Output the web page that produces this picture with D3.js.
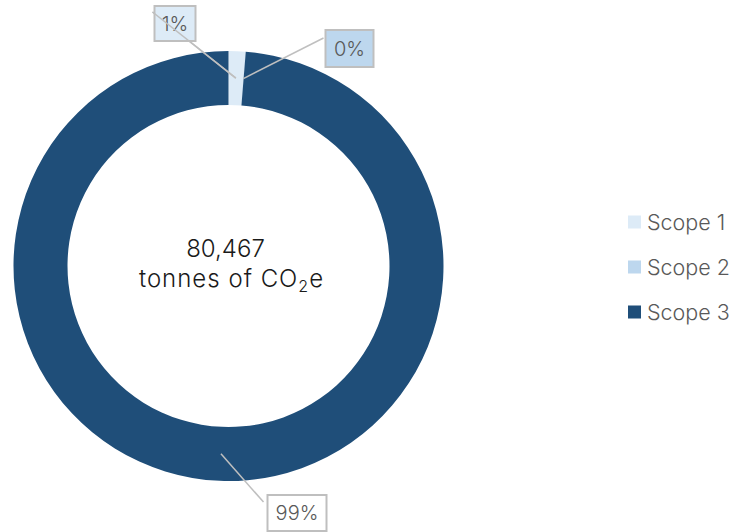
<!DOCTYPE html>
<html>
<head>
	<meta charset="utf-8">
	<script src="https://d3js.org/d3.v7.min.js"></script>
	<style>
		body { margin: 0; background: #fff; }
		text { font-family: Inter, "DejaVu Sans", sans-serif; font-weight: 300; }
	</style>
</head>
<body>
	<svg width="737" height="532"></svg>
	<script>
		// data
		var categories = ["Scope 1", "Scope 2", "Scope 3"];
		var values = [1000, 30, 79437];
		var pctLabels = ["1%", "0%", "99%"];
		var totalLabel = "80,467";
		var colors = ["#DDEBF7", "#BDD7EE", "#1F4E79"];

		// label box placement (end of leader line relative to centre, box offset)
		var labelLayout = [
			{lx: -76, ly: -254, bx: -74, by: -260, w: 41, h: 35},
			{lx: 95, ly: -228, bx: 97, by: -236, w: 48, h: 37},
			{lx: 35, ly: 236, bx: 39, by: 229, w: 59, h: 36}
		];

		var svg = d3.select("svg"),
			cx = 228.5, cy = 266,
			outerR = 215, innerR = 161;

		var g = svg.append("g")
			.attr("transform", "translate(" + cx + "," + cy + ")");

		var pie = d3.pie().sort(null).value(function(d) { return d; });
		var arc = d3.arc().innerRadius(innerR).outerRadius(outerR);
		var midArc = d3.arc().innerRadius(188).outerRadius(188);

		var arcs = pie(values);

		g.selectAll(".slice")
			.data(arcs)
			.enter().append("path")
			.attr("class", "slice")
			.attr("d", arc)
			.attr("fill", function(d, i) { return colors[i]; });

		// leader lines
		g.selectAll(".leader")
			.data(arcs)
			.enter().append("line")
			.attr("class", "leader")
			.attr("x1", function(d) { return midArc.centroid(d)[0]; })
			.attr("y1", function(d) { return midArc.centroid(d)[1]; })
			.attr("x2", function(d, i) { return labelLayout[i].lx; })
			.attr("y2", function(d, i) { return labelLayout[i].ly; })
			.attr("stroke", "#bfbfbf")
			.attr("stroke-width", 1.5);

		var lab = g.selectAll(".lab")
			.data(arcs)
			.enter().append("g")
			.attr("class", "lab")
			.attr("transform", function(d, i) {
				return "translate(" + labelLayout[i].bx + "," + labelLayout[i].by + ")";
			});

		lab.append("rect")
			.attr("width", function(d, i) { return labelLayout[i].w; })
			.attr("height", function(d, i) { return labelLayout[i].h; })
			.attr("fill", function(d, i) { return i == 2 ? "#fff" : colors[i]; })
			.attr("stroke", "#bfbfbf")
			.attr("stroke-width", 2);

		lab.append("text")
			.attr("x", function(d, i) { return labelLayout[i].w / 2; })
			.attr("y", function(d, i) { return labelLayout[i].h / 2; })
			.attr("dy", "0.36em")
			.attr("text-anchor", "middle")
			.attr("font-size", 20)
			.attr("fill", "#595959")
			.text(function(d, i) { return pctLabels[i]; });

		// line for 1% runs over its box in the reference
		g.append("line")
			.datum(arcs[0])
			.attr("x1", function(d) { return midArc.centroid(d)[0]; })
			.attr("y1", function(d) { return midArc.centroid(d)[1]; })
			.attr("x2", labelLayout[0].lx)
			.attr("y2", labelLayout[0].ly)
			.attr("stroke", "#bfbfbf")
			.attr("stroke-width", 1.5);

		// centre text
		g.append("text")
			.attr("text-anchor", "middle")
			.attr("x", -3)
			.attr("y", -9)
			.attr("font-size", 24)
			.attr("fill", "#1a1a1a")
			.text(totalLabel);

		var t2 = g.append("text")
			.attr("text-anchor", "middle")
			.attr("x", 3)
			.attr("y", 21)
			.attr("font-size", 24)
			.attr("letter-spacing", 1)
			.attr("fill", "#1a1a1a");
		t2.append("tspan").text("tonnes of CO");
		t2.append("tspan").attr("font-size", 16).attr("dy", 5).text("2");
		t2.append("tspan").attr("dy", -5).text("e");

		// legend
		var legend = svg.append("g")
			.attr("transform", "translate(628,222)");

		var item = legend.selectAll(".item")
			.data(categories)
			.enter().append("g")
			.attr("class", "item")
			.attr("transform", function(d, i) { return "translate(0," + i * 45 + ")"; });

		item.append("rect")
			.attr("x", 0)
			.attr("y", -6.5)
			.attr("width", 13)
			.attr("height", 13)
			.attr("fill", function(d, i) { return colors[i]; });

		item.append("text")
			.attr("x", 19)
			.attr("dy", "0.36em")
			.attr("font-size", 21.5)
			.attr("fill", "#595959")
			.text(function(d) { return d; });
	</script>
</body>
</html>
